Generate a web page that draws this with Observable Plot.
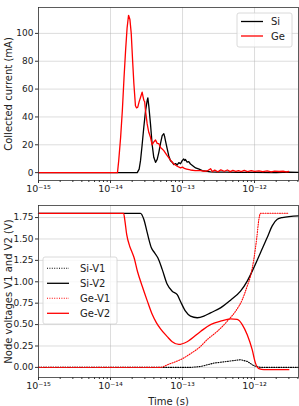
<!DOCTYPE html>
<html><head><meta charset="utf-8">
<script src="https://cdn.jsdelivr.net/npm/d3@7"></script>
<script src="https://cdn.jsdelivr.net/npm/@observablehq/plot@0.6"></script>
<style>
body{margin:0;background:#fff;font-family:"DejaVu Sans",sans-serif;}
#wrap{position:relative;width:299px;height:406px;overflow:hidden;background:#fff;}
#wrap svg{display:block;}
#wrap svg.legend{position:absolute;left:0;top:0;}
</style></head><body><div id="wrap"></div>
<script>
// ---- axis ticks & labels ----
const xTicks = [1e-15, 1e-14, 1e-13, 1e-12];
const xTickLabels = ["10⁻¹⁵", "10⁻¹⁴", "10⁻¹³", "10⁻¹²"];
const curTicks = [0, 20, 40, 60, 80, 100];
const voltTicks = [0, 0.25, 0.5, 0.75, 1.0, 1.25, 1.5, 1.75];
const yLabelTop = "Collected current (mA)";
const yLabelBottom = "Node voltages V1 and V2 (V)";
const xLabel = "Time (s)";
const legendTop = ["Si", "Ge"];
const legendBottom = ["Si-V1", "Si-V2", "Ge-V1", "Ge-V2"];

// ---- top panel: collected current (mA) ----
const siCurT = [1e-15, 2.35e-14, 2.50e-14, 2.61e-14, 2.75e-14, 2.90e-14, 3.06e-14, 3.23e-14, 3.30e-14, 3.40e-14, 3.59e-14, 3.79e-14, 3.99e-14, 4.22e-14, 4.45e-14, 4.69e-14, 4.95e-14, 5.22e-14, 5.50e-14, 5.67e-14, 5.90e-14, 6.13e-14, 6.45e-14, 6.81e-14, 7.19e-14, 7.57e-14, 8.0e-14, 8.44e-14, 8.89e-14, 9.38e-14, 9.9e-14, 1.04e-13, 1.07e-13, 1.10e-13, 1.16e-13, 1.22e-13, 1.29e-13, 1.40e-13, 1.52e-13, 1.70e-13, 1.88e-13, 2.1e-13, 2.45e-13, 3.0e-13, 4.0e-13, 6e-13, 1e-12, 2e-12, 3e-12, 4.08e-12];
const siCurV = [0, 0, 2.5, 8.6, 20, 32.6, 44, 51.8, 53.7, 48, 35, 20, 11, 7.4, 9.5, 14.6, 21, 26.6, 28, 25.4, 21, 17, 12, 8.6, 7.5, 5.8, 6.5, 5.5, 7.2, 6.4, 8.6, 9.8, 8.7, 9.4, 7.6, 7.9, 6.2, 4.8, 3.4, 2.5, 1.4, 1.1, 0.5, 0.4, 0.3, 0.2, 0.2, 0.1, 0.3, 0.2];
const geCurT = [1e-15, 1.25e-14, 1.30e-14, 1.38e-14, 1.46e-14, 1.54e-14, 1.62e-14, 1.70e-14, 1.78e-14, 1.86e-14, 1.94e-14, 2.02e-14, 2.11e-14, 2.22e-14, 2.30e-14, 2.39e-14, 2.50e-14, 2.61e-14, 2.75e-14, 2.82e-14, 2.90e-14, 2.98e-14, 3.06e-14, 3.23e-14, 3.40e-14, 3.59e-14, 3.79e-14, 3.99e-14, 4.22e-14, 4.45e-14, 4.69e-14, 4.95e-14, 5.22e-14, 5.50e-14, 5.80e-14, 6.13e-14, 6.81e-14, 7.57e-14, 8.44e-14, 9.38e-14, 1.0e-13, 1.06e-13, 1.14e-13, 1.29e-13, 1.5e-13, 1.78e-13, 2.0e-13, 2.2e-13, 2.45e-13, 2.6e-13, 2.8e-13, 3.1e-13, 3.4e-13, 3.8e-13, 4.2e-13, 4.6e-13, 5.0e-13, 5.5e-13, 6.0e-13, 6.5e-13, 7.2e-13, 8.0e-13, 9.0e-13, 1.0e-12, 1.15e-12, 1.3e-12, 1.5e-12, 1.7e-12, 1.9e-12, 2.2e-12, 2.5e-12, 2.75e-12, 2.99e-12];
const geCurV = [0, 0, 8.6, 25, 44.6, 68, 87.8, 104, 113, 110, 100, 82, 64, 48, 46.5, 47, 51, 54, 57.8, 55, 52, 51, 44.6, 35, 29, 25.4, 20, 22, 23.5, 21, 20.8, 18, 17, 15.8, 14, 12.2, 9, 6.2, 4.6, 3.4, 4, 3, 2.6, 1.9, 1.5, 1.4, 1.0, 1.2, 2.8, 0.8, 1.8, 0.6, 2.0, 1.0, 1.9, 0.7, 1.6, 0.9, 1.5, 0.8, 1.6, 0.7, 1.4, 0.9, 1.2, 0.7, 1.3, 0.6, 1.1, 0.8, 1.0, 0.6, 0.8];

// ---- bottom panel: node voltages (V) ----
const siV1T = [1e-15, 1.29e-13, 1.78e-13, 2.72e-13, 4.18e-13, 6.39e-13, 7.92e-13, 9.77e-13, 1.21e-12, 4.08e-12];
const siV1V = [0, 0, 0.01, 0.05, 0.07, 0.09, 0.07, 0.02, 0, 0];
const siV2T = [1e-15, 2.61e-14, 2.90e-14, 3.16e-14, 3.40e-14, 3.68e-14, 4.08e-14, 4.54e-14, 5.22e-14, 6.13e-14, 7.19e-14, 8.44e-14, 9.38e-14, 1.10e-13, 1.29e-13, 1.60e-13, 1.98e-13, 2.45e-13, 3.37e-13, 4.64e-13, 6.39e-13, 7.92e-13, 9.77e-13, 1.21e-12, 1.50e-12, 1.76e-12, 2.07e-12, 2.43e-12, 4.08e-12];
const siV2V = [1.80, 1.80, 1.73, 1.61, 1.50, 1.40, 1.34, 1.28, 1.145, 0.97, 0.89, 0.85, 0.77, 0.656, 0.598, 0.58, 0.598, 0.637, 0.695, 0.785, 0.89, 1.008, 1.164, 1.34, 1.516, 1.653, 1.73, 1.75, 1.77];
const geV1T = [1e-15, 4.95e-14, 6.13e-14, 1.04e-13, 1.29e-13, 1.78e-13, 2.20e-13, 3.03e-13, 4.18e-13, 5.45e-13, 6.75e-13, 7.92e-13, 8.80e-13, 9.77e-13, 1.07e-12, 1.15e-12, 1.21e-12, 2.99e-12];
const geV1V = [0, 0, 0.03, 0.11, 0.16, 0.245, 0.324, 0.42, 0.54, 0.656, 0.79, 0.95, 1.067, 1.26, 1.50, 1.73, 1.80, 1.80];
const geV2T = [1e-15, 1.52e-14, 1.58e-14, 1.68e-14, 1.84e-14, 1.98e-14, 2.11e-14, 2.37e-14, 2.75e-14, 3.23e-14, 3.79e-14, 4.35e-14, 4.95e-14, 6.13e-14, 7.19e-14, 8.89e-14, 1.16e-13, 1.78e-13, 2.45e-13, 3.37e-13, 4.64e-13, 5.75e-13, 6.75e-13, 7.92e-13, 9.28e-13, 1.03e-12, 1.15e-12, 1.35e-12, 2.99e-12];
const geV2V = [1.80, 1.80, 1.72, 1.55, 1.42, 1.35, 1.29, 1.12, 0.95, 0.78, 0.62, 0.52, 0.45, 0.36, 0.30, 0.268, 0.30, 0.42, 0.50, 0.54, 0.566, 0.56, 0.50, 0.38, 0.207, 0.05, -0.015, -0.027, -0.027];

const rows = (T, V) => T.map((t, i) => ({t, v: V[i]}));
const xDomain = [1e-15, 4.08e-12];
const xMinor = d3.scaleLog().domain(xDomain).ticks().filter(t => !xTicks.some(m => Math.abs(t / m - 1) < 1e-6));
const fmtX = d => xTickLabels[xTicks.findIndex(m => Math.abs(d / m - 1) < 1e-6)];

const gridStyle = {stroke: "#b0b0b0", strokeOpacity: 0.55, strokeWidth: 0.8};
const axStyle = {stroke: "#333", label: null};
const styleObj = {fontFamily: "DejaVu Sans", fontSize: "9px", color: "#222", background: "#fff"};
const labelStyle = {frameAnchor: "left", dx: -30, rotate: -90, fontSize: 10, fill: "#222", textAnchor: "middle", lineAnchor: "middle", text: d => d};

const chartTop = Plot.plot({
  width: 299, height: 200,
  marginTop: 7, marginBottom: 20, marginLeft: 38, marginRight: 1,
  style: styleObj,
  x: {type: "log", domain: xDomain},
  y: {domain: [-5.65, 118.6]},
  marks: [
    Plot.gridX(xTicks, gridStyle),
    Plot.gridY(curTicks, gridStyle),
    Plot.axisX(xMinor, {...axStyle, tickSize: 2, tickFormat: () => ""}),
    Plot.axisX(xTicks, {...axStyle, tickSize: 3, tickPadding: 2, fontSize: 9.5, tickFormat: fmtX}),
    Plot.axisY(curTicks, {...axStyle, tickSize: 3, tickPadding: 2}),
    Plot.line(rows(siCurT, siCurV), {x: "t", y: "v", stroke: "#000", strokeWidth: 1.3}),
    Plot.line(rows(geCurT, geCurV), {x: "t", y: "v", stroke: "#ff0000", strokeWidth: 1.3}),
    Plot.frame({stroke: "#333", strokeWidth: 0.8}),
    Plot.text([yLabelTop], labelStyle)
  ]
});

const chartBottom = Plot.plot({
  width: 299, height: 206,
  marginTop: 5, marginBottom: 29, marginLeft: 38, marginRight: 1,
  style: styleObj,
  x: {type: "log", domain: xDomain},
  y: {domain: [-0.118, 1.891]},
  marks: [
    Plot.gridX(xTicks, gridStyle),
    Plot.gridY(voltTicks, gridStyle),
    Plot.axisX(xMinor, {...axStyle, tickSize: 2, tickFormat: () => ""}),
    Plot.axisX(xTicks, {...axStyle, tickSize: 3, tickPadding: 2, fontSize: 9.5, tickFormat: fmtX}),
    Plot.axisY(voltTicks, {...axStyle, tickSize: 3, tickPadding: 2, tickFormat: d3.format(".2f")}),
    Plot.line(rows(siV1T, siV1V), {x: "t", y: "v", stroke: "#000", strokeWidth: 1.1, strokeDasharray: "1,1.4"}),
    Plot.line(rows(siV2T, siV2V), {x: "t", y: "v", stroke: "#000", strokeWidth: 1.3, curve: "monotone-x"}),
    Plot.line(rows(geV1T, geV1V), {x: "t", y: "v", stroke: "#ff0000", strokeWidth: 1.1, strokeDasharray: "1,1.4", curve: "monotone-x"}),
    Plot.line(rows(geV2T, geV2V), {x: "t", y: "v", stroke: "#ff0000", strokeWidth: 1.3, curve: "monotone-x"}),
    Plot.frame({stroke: "#333", strokeWidth: 0.8}),
    Plot.text([yLabelBottom], labelStyle),
    Plot.text([xLabel], {frameAnchor: "bottom", dy: 24, fontSize: 10, fill: "#222", textAnchor: "middle", lineAnchor: "middle", text: d => d})
  ]
});

const wrap = document.getElementById("wrap");
wrap.appendChild(chartTop);
wrap.appendChild(chartBottom);

// ---- legends (overlay) ----
function legend(box, entries) {
  const svg = d3.create("svg").attr("class", "legend").attr("width", 299).attr("height", 406)
    .style("font-family", "DejaVu Sans").style("font-size", "10px");
  svg.append("rect").attr("x", box.x).attr("y", box.y).attr("width", box.w).attr("height", box.h)
    .attr("rx", 2).attr("fill", "#fff").attr("fill-opacity", 0.8).attr("stroke", "#d0d0d0").attr("stroke-width", 0.8);
  entries.forEach(e => {
    svg.append("line").attr("x1", box.lx1).attr("x2", box.lx2).attr("y1", e.y).attr("y2", e.y)
      .attr("stroke", e.color).attr("stroke-width", e.dash ? 1.1 : 1.3).attr("stroke-dasharray", e.dash || null);
    svg.append("text").attr("x", box.tx).attr("y", e.y).attr("dy", "0.35em").attr("fill", "#222").text(e.label);
  });
  wrap.appendChild(svg.node());
}
legend({x: 237, y: 13, w: 55, h: 34, lx1: 241, lx2: 263, tx: 271},
  [{label: legendTop[0], y: 21.5, color: "#000"}, {label: legendTop[1], y: 36, color: "#ff0000"}]);
legend({x: 43, y: 257, w: 74, h: 67, lx1: 47, lx2: 69, tx: 80},
  [{label: legendBottom[0], y: 268.3, color: "#000", dash: "1,1.4"},
   {label: legendBottom[1], y: 283.3, color: "#000"},
   {label: legendBottom[2], y: 298.3, color: "#ff0000", dash: "1,1.4"},
   {label: legendBottom[3], y: 313.3, color: "#ff0000"}]);
</script></body></html>
